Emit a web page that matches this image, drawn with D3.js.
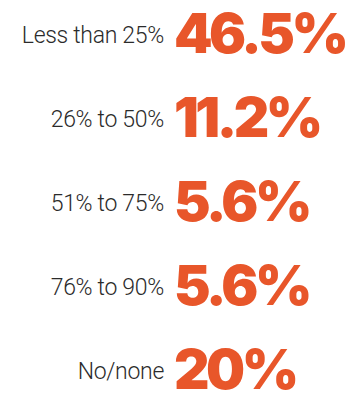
<!DOCTYPE html>
<html>
<head>
<meta charset="utf-8">
<script src="https://cdn.jsdelivr.net/npm/d3@7"></script>
<style>
  body { margin: 0; background: #fff; }
  .label { font-family: "Roboto", sans-serif; font-weight: 300; fill: #2b2b2b; }
  .value { font-family: "Inter", "Roboto", sans-serif; font-weight: 900; fill: #e8562a; }
</style>
</head>
<body>
<div id="chart"></div>
<script>
// categories and values
var categories = ["Less than 25%", "26% to 50%", "51% to 75%", "76% to 90%", "No/none"];
var values = [46.5, 11.2, 5.6, 5.6, 20];
var valueLabels = ["46.5%", "11.2%", "5.6%", "5.6%", "20%"];

var width = 358;
var height = 400;
var splitX = 170; // gap between label and number

var svg = d3.select("#chart")
  .append("svg")
  .attr("width", width)
  .attr("height", height);

// baseline of each row
var yScale = d3.scalePoint()
  .domain(d3.range(categories.length))
  .range([53, 389]);

var rows = svg.selectAll("g.row")
  .data(categories)
  .enter()
  .append("g")
  .attr("class", "row")
  .attr("transform", function(d, i) { return "translate(0," + yScale(i) + ")"; });

//Category names, right aligned
rows.append("text")
  .attr("class", "label")
  .attr("x", splitX - 6)
  .attr("y", -10)
  .attr("text-anchor", "end")
  .style("font-size", "23px")
  .style("letter-spacing", "-0.3px")
  .text(function(d) { return d; });

//Big percentages
rows.append("text")
  .attr("class", "value")
  .attr("x", splitX + 4)
  .attr("y", 0)
  .style("font-size", "55px")
  .style("letter-spacing", "-3.5px")
  .text(function(d, i) { return valueLabels[i]; });
</script>
</body>
</html>
